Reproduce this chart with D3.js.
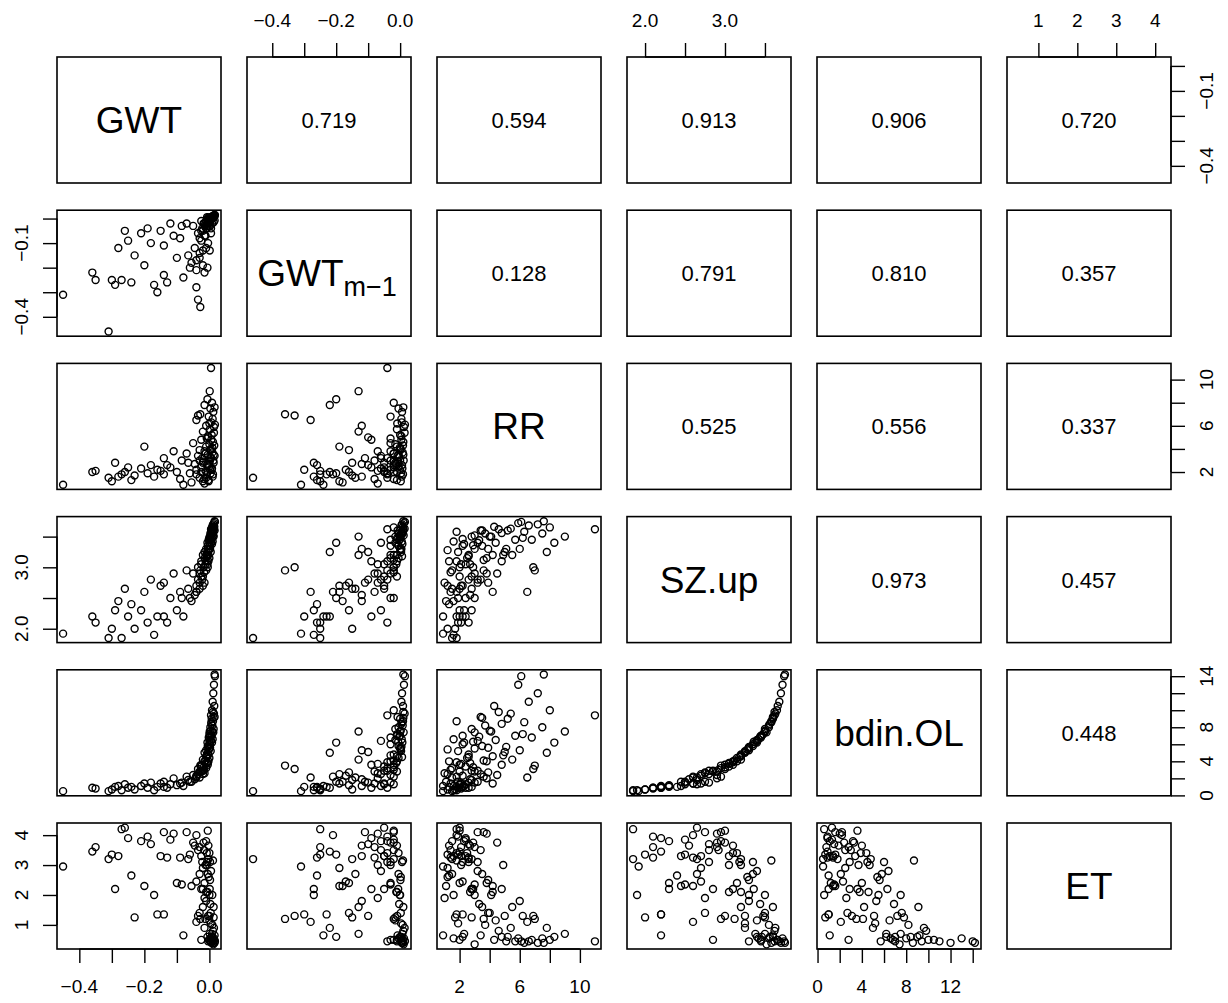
<!DOCTYPE html>
<html>
<head>
<meta charset="utf-8">
<script src="https://cdn.jsdelivr.net/npm/d3@7"></script>
<style>
  body { margin: 0; background: #fff; }
  text { font-family: "Liberation Sans", Arial, sans-serif; fill: #000; }
</style>
</head>
<body>
<div id="app"></div>
<script>
// observations, one entry per month
const GWT = [-0.45,-0.36,-0.35,-0.31,-0.30,-0.29,-0.28,-0.27,-0.26,-0.25,-0.24,-0.23,-0.21,-0.20,-0.19,-0.18,-0.17,-0.16,-0.15,-0.14,
  -0.14,-0.13,-0.12,-0.11,-0.10,-0.09,-0.085,-0.08,-0.07,-0.065,-0.06,-0.055,-0.05,-0.045,-0.04,-0.04,-0.035,-0.035,-0.03,-0.03,
  -0.028,-0.025,-0.025,-0.022,-0.02,-0.02,-0.018,-0.015,-0.015,-0.012,-0.01,-0.01,-0.008,-0.006,-0.005,-0.004,-0.003,-0.002,0.0,0.0,
  0.001,0.002,0.002,0.003,0.004,0.005,0.005,0.006,0.007,0.008,0.009,0.010,0.011,0.012,0.013,0.014,0.015,0.016,0.016,0.017,
  -0.01,-0.005,-0.003,0.0,0.002,-0.02,-0.015,0.004,0.008,0.01,-0.008,-0.03,0.012,-0.006,0.014,-0.04,0.0,-0.012,0.006,-0.025,
  -0.002,0.003,-0.007,0.009,0.011,-0.004,0.001,0.013,-0.016,0.007];
const GWTm1 = [-0.31,-0.22,-0.25,-0.46,-0.25,-0.27,-0.12,-0.25,-0.05,-0.09,-0.26,-0.15,-0.06,-0.19,-0.04,-0.10,-0.27,-0.30,-0.05,-0.11,
  -0.23,-0.26,-0.02,-0.07,-0.16,-0.08,-0.03,-0.24,-0.02,-0.15,-0.20,-0.18,-0.03,-0.12,-0.28,-0.17,-0.06,-0.33,-0.14,-0.08,
  -0.36,-0.05,-0.09,-0.04,-0.19,-0.13,-0.02,-0.22,-0.03,-0.07,-0.12,-0.01,-0.04,-0.20,-0.005,-0.10,-0.02,-0.03,-0.015,0.0,
  -0.13,-0.01,-0.03,-0.005,0.002,-0.04,-0.06,0.005,0.0,-0.02,0.008,0.004,0.01,0.006,-0.015,0.012,0.009,0.01,-0.008,0.015,
  -0.04,-0.02,-0.01,-0.005,0.001,-0.05,-0.07,0.003,0.007,0.005,-0.03,-0.16,0.011,-0.012,0.014,-0.21,-0.009,-0.02,0.004,-0.01,
  0.002,-0.003,0.006,-0.001,0.009,0.004,-0.006,0.01,-0.02,0.0];
const RR = [0.9,2.0,2.1,1.5,1.2,2.8,1.6,1.8,2.0,2.4,1.3,1.7,2.3,4.2,1.9,2.6,1.6,2.2,2.1,3.2,
  1.8,2.6,2.4,3.8,2.0,1.4,3.0,0.9,3.6,2.8,1.9,1.1,4.5,2.7,6.5,2.2,3.4,6.9,1.5,3.0,
  7.0,2.4,4.8,3.2,1.2,5.5,2.9,7.8,3.8,2.1,6.0,4.2,1.8,8.3,3.5,5.0,2.6,6.8,4.4,3.0,
  9.0,5.7,2.2,7.5,4.0,11.0,3.2,6.3,5.2,8.0,3.7,6.6,4.6,7.2,2.8,5.9,4.3,7.6,3.4,6.1,
  1.5,2.0,1.3,2.5,3.9,2.8,1.0,1.9,2.3,1.6,4.9,3.9,3.0,2.7,5.4,1.8,6.2,3.6,4.8,2.0,
  1.2,3.3,2.6,4.1,1.8,5.1,2.9,3.5,1.4,2.2];
const SZup = [1.92,2.2,2.1,1.85,2.0,2.3,2.45,1.85,2.65,2.2,2.4,2.0,2.3,2.6,2.1,2.8,1.9,2.2,2.7,2.75,
  2.2,2.1,2.5,2.9,2.3,2.6,2.5,2.2,2.95,2.65,2.5,2.45,2.9,2.55,2.6,2.7,2.8,3.0,2.65,2.9,
  2.95,3.05,3.1,2.8,2.7,3.2,3.0,3.25,3.15,3.05,3.3,3.2,3.1,3.4,3.35,3.25,3.2,3.45,3.4,3.3,
  3.5,3.45,3.35,3.55,3.5,3.62,3.4,3.58,3.6,3.65,3.55,3.68,3.62,3.7,3.5,3.72,3.66,3.75,3.6,3.74,
  2.95,3.0,3.1,3.15,3.3,2.85,2.75,3.25,3.38,3.42,3.2,2.75,3.52,3.05,3.63,2.6,3.48,3.12,3.56,2.85,
  3.28,3.44,3.18,3.5,3.58,3.3,3.36,3.6,2.92,3.46];
const bdinOL = [0.5,0.9,0.8,0.5,0.7,1.0,1.1,0.6,1.3,0.9,1.0,0.7,1.1,1.4,0.9,1.5,0.6,1.0,1.4,1.6,
  1.0,0.9,1.3,2.0,1.2,1.4,1.5,1.1,2.2,1.8,1.6,1.6,2.4,1.9,2.1,2.3,2.5,3.1,2.1,2.8,
  3.5,3.4,3.6,2.9,2.5,4.2,3.3,5.0,4.0,3.7,5.3,4.6,3.9,6.2,5.8,5.1,4.8,6.8,6.5,5.5,
  7.5,7.0,6.0,8.0,7.6,9.4,6.4,8.6,9.0,10.0,8.2,11.0,9.8,12.0,7.8,13.0,10.5,14.2,9.2,14.0,
  3.2,3.6,4.0,4.4,5.6,2.9,2.6,5.2,6.2,6.6,4.7,2.7,7.4,3.8,9.6,2.2,7.2,4.1,8.4,2.8,
  5.4,6.9,4.5,7.5,8.7,5.7,6.3,9.1,3.0,7.0];
const ET = [2.95,3.45,3.6,3.2,3.35,2.2,3.3,4.2,4.25,3.9,2.65,1.25,3.8,2.3,3.95,3.7,2.0,1.35,3.3,4.1,
  1.35,3.25,3.85,4.05,2.4,3.25,2.35,0.65,4.1,3.2,3.35,2.3,3.75,3.65,1.1,2.45,3.5,1.3,2.7,3.6,
  1.2,3.3,2.2,3.1,2.9,1.6,3.75,0.9,2.4,3.0,1.8,2.1,3.4,0.6,2.7,1.3,3.2,0.5,1.15,2.0,
  0.7,0.45,3.1,0.55,1.4,0.45,2.8,0.4,0.6,0.5,1.0,0.45,0.8,0.4,1.25,0.55,0.5,0.4,0.65,0.45,
  3.8,4.15,3.65,3.4,2.5,2.2,1.9,1.05,0.7,0.55,3.0,1.4,0.35,2.1,0.9,4.0,1.3,1.2,0.6,0.5,
  2.6,1.7,3.1,2.0,3.15,0.45,2.2,1.6,3.5,0.6];

const varNames = ["GWT", "GWTm1", "RR", "SZ.up", "bdin.OL", "ET"];
const series = [GWT, GWTm1, RR, SZup, bdinOL, ET];
const corrLabels = [
  ["", "0.719", "0.594", "0.913", "0.906", "0.720"],
  ["", "", "0.128", "0.791", "0.810", "0.357"],
  ["", "", "", "0.525", "0.556", "0.337"],
  ["", "", "", "", "0.973", "0.457"],
  ["", "", "", "", "", "0.448"]
];
const tickValues = [
  [-0.4, -0.3, -0.2, -0.1, 0.0],
  [-0.4, -0.3, -0.2, -0.1, 0.0],
  [2, 4, 6, 8, 10],
  [2.0, 2.5, 3.0, 3.5],
  [0, 2, 4, 6, 8, 10, 12, 14],
  [1, 2, 3, 4]
];
// which ticks get a label, per side
const xLabels = [[-0.4, -0.2, 0.0], [-0.4, -0.2, 0.0], [2, 6, 10], [2.0, 3.0], [0, 4, 8, 12], [1, 2, 3, 4]];
const yLabels = [[-0.1, -0.4], [-0.1, -0.4], [2, 6, 10], [2.0, 3.0], [0, 4, 8, 14], [1, 2, 3, 4]];

const W = 1228, H = 1003;
const marginL = 57, marginT = 57, pitchX = 190, pitchY = 153.2, pw = 164, ph = 126;
const tickLen = 14;

const svg = d3.select("#app").append("svg").attr("width", W).attr("height", H);

const fmtFor = i => (i <= 1 || i === 3) ? d3.format(".1f") : d3.format("d");

const scales = series.map(s => {
  const ext = d3.extent(s);
  const pad = (ext[1] - ext[0]) * 0.04;
  return [ext[0] - pad, ext[1] + pad];
});

const n = series.length;
for (let r = 0; r < n; r++) {
  for (let c = 0; c < n; c++) {
    const x0 = marginL + c * pitchX, y0 = marginT + r * pitchY;
    const g = svg.append("g").attr("transform", `translate(${x0},${y0})`);
    const x = d3.scaleLinear().domain(scales[c]).range([0, pw]);
    const y = d3.scaleLinear().domain(scales[r]).range([ph, 0]);

    if (r === c) {
      const t = g.append("text").attr("x", pw / 2).attr("y", ph / 2 + 13)
        .attr("text-anchor", "middle").style("font-size", "37px");
      if (varNames[r] === "GWTm1") {
        t.append("tspan").text("GWT");
        t.append("tspan").attr("dy", 10).style("font-size", "27px").text("m\u22121");
        t.attr("x", pw / 2 - 2);
      } else {
        t.text(varNames[r]);
      }
    } else if (c > r) {
      g.append("text").attr("x", pw / 2).attr("y", ph / 2 + 8)
        .attr("text-anchor", "middle").style("font-size", "22px")
        .text(corrLabels[r][c]);
    } else {
      g.selectAll("circle").data(series[c].map((v, i) => [v, series[r][i]]))
        .enter().append("circle")
        .attr("cx", d => x(d[0])).attr("cy", d => y(d[1])).attr("r", 3.5)
        .attr("fill", "none").attr("stroke", "#000").attr("stroke-width", 1.4);
    }

    g.append("rect").attr("width", pw).attr("height", ph)
      .attr("fill", "none").attr("stroke", "#000").attr("stroke-width", 1.6);

    const f = fmtFor(c), fy = fmtFor(r);
    // top axes for even columns, bottom axes for odd columns
    if (r === 0 && c % 2 === 1) {
      const ax = g.append("g");
      ax.call(d3.axisTop(x).tickValues(tickValues[c]).tickSize(tickLen).tickFormat(""));
      ax.select(".domain").attr("d", `M${x(tickValues[c][0])},0H${x(tickValues[c][tickValues[c].length - 1])}`);
      xLabels[c].forEach(v => g.append("text").attr("x", x(v)).attr("y", -30)
        .attr("text-anchor", "middle").style("font-size", "19px").text(f(v)));
    }
    if (r === n - 1 && c % 2 === 0) {
      const ax = g.append("g").attr("transform", `translate(0,${ph})`);
      ax.call(d3.axisBottom(x).tickValues(tickValues[c]).tickSize(tickLen).tickFormat(""));
      ax.select(".domain").attr("d", `M${x(tickValues[c][0])},0H${x(tickValues[c][tickValues[c].length - 1])}`);
      xLabels[c].forEach(v => g.append("text").attr("x", x(v)).attr("y", ph + 44)
        .attr("text-anchor", "middle").style("font-size", "19px").text(f(v)));
    }
    if (c === 0 && r % 2 === 1) {
      const ax = g.append("g");
      ax.call(d3.axisLeft(y).tickValues(tickValues[r]).tickSize(tickLen).tickFormat(""));
      ax.select(".domain").attr("d", `M0,${y(tickValues[r][0])}V${y(tickValues[r][tickValues[r].length - 1])}`);
      yLabels[r].forEach(v => g.append("text")
        .attr("transform", `translate(-29,${y(v)}) rotate(-90)`)
        .attr("text-anchor", "middle").style("font-size", "19px").text(fy(v)));
    }
    if (c === n - 1 && r % 2 === 0) {
      const ax = g.append("g").attr("transform", `translate(${pw},0)`);
      ax.call(d3.axisRight(y).tickValues(tickValues[r]).tickSize(tickLen).tickFormat(""));
      ax.select(".domain").attr("d", `M0,${y(tickValues[r][0])}V${y(tickValues[r][tickValues[r].length - 1])}`);
      yLabels[r].forEach(v => g.append("text")
        .attr("transform", `translate(${pw + 42},${y(v)}) rotate(-90)`)
        .attr("text-anchor", "middle").style("font-size", "19px").text(fy(v)));
    }
  }
}
svg.selectAll(".tick line, .domain").attr("stroke", "#000").attr("stroke-width", 1.4);
</script>
</body>
</html>
